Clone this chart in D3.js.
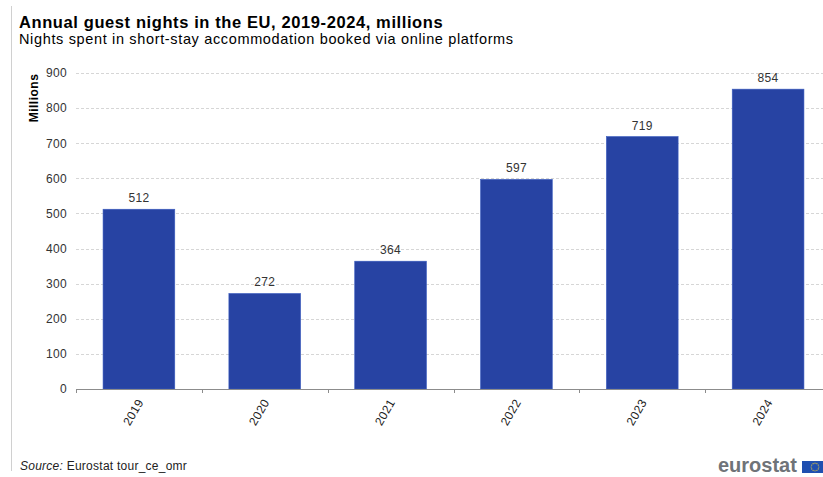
<!DOCTYPE html>
<html>
<head>
<meta charset="utf-8">
<script src="https://cdn.jsdelivr.net/npm/d3@7/dist/d3.min.js"></script>
<style>
  body { margin: 0; background: #fff; }
  svg { display: block; font-family: "Liberation Sans", Arial, sans-serif; }
</style>
</head>
<body>
<svg id="chart" width="823" height="477"></svg>
<script>
// Annual guest nights booked via online platforms, EU, millions
const years = ["2019", "2020", "2021", "2022", "2023", "2024"];
const nights = [512, 272, 364, 597, 719, 854];
const yTickValues = [0, 100, 200, 300, 400, 500, 600, 700, 800, 900];

const titleText = "Annual guest nights in the EU, 2019-2024, millions";
const subtitleText = "Nights spent in short-stay accommodation booked via online platforms";
const yAxisTitle = "Millions";
const sourceLabel = "Source:";
const sourceText = " Eurostat tour_ce_omr";

const svg = d3.select("#chart");

const plotLeft = 76, plotRight = 831, plotTop = 73, plotBottom = 389;

const x = d3.scaleBand()
  .domain(years)
  .range([plotLeft, plotRight])
  .paddingInner(0.43)
  .paddingOuter(0.215);

const y = d3.scaleLinear()
  .domain([0, 900])
  .range([plotBottom, plotTop]);

// thin frame line on the left edge
svg.append("line")
  .attr("x1", 11.5).attr("x2", 11.5)
  .attr("y1", 6).attr("y2", 471)
  .attr("stroke", "#d0d0d0").attr("stroke-width", 1);

// titles
svg.append("text")
  .attr("x", 19).attr("y", 28)
  .attr("font-size", 16.5).attr("font-weight", "bold").attr("fill", "#000")
  .attr("letter-spacing", 0.6)
  .text(titleText);
svg.append("text")
  .attr("x", 19).attr("y", 44)
  .attr("font-size", 14.5).attr("fill", "#000")
  .attr("letter-spacing", 0.65)
  .text(subtitleText);

// horizontal gridlines
svg.append("g")
  .selectAll("line")
  .data(yTickValues.filter(d => d > 0))
  .join("line")
  .attr("x1", plotLeft).attr("x2", 823)
  .attr("y1", d => Math.round(y(d)) + 0.5)
  .attr("y2", d => Math.round(y(d)) + 0.5)
  .attr("stroke", "#d6d6d6")
  .attr("stroke-dasharray", "3,2");

// y axis labels
const yAxis = d3.axisLeft(y)
  .tickValues(yTickValues)
  .tickSize(0)
  .tickPadding(9);
const yg = svg.append("g")
  .attr("transform", `translate(${plotLeft},0)`)
  .call(yAxis);
yg.select(".domain").remove();
yg.selectAll("text")
  .attr("font-size", 12)
  .attr("letter-spacing", 0.3)
  .attr("font-family", "'Liberation Sans', Arial, sans-serif")
  .attr("fill", "#333");

svg.append("text")
  .attr("transform", `translate(38,98) rotate(-90)`)
  .attr("text-anchor", "middle")
  .attr("font-size", 12).attr("font-weight", "bold").attr("fill", "#000")
  .attr("letter-spacing", 0.5)
  .text(yAxisTitle);

// bars
svg.append("g")
  .selectAll("rect")
  .data(nights)
  .join("rect")
  .attr("x", (d, i) => x(years[i]))
  .attr("y", d => y(d))
  .attr("width", x.bandwidth())
  .attr("height", d => y(0) - y(d))
  .attr("fill", "#2743a3")
  .attr("stroke", "#3a5cc0")
  .attr("stroke-width", 0.6);

// value labels
svg.append("g")
  .selectAll("text")
  .data(nights)
  .join("text")
  .attr("x", (d, i) => x(years[i]) + x.bandwidth() / 2)
  .attr("y", d => y(d) - 7)
  .attr("text-anchor", "middle")
  .attr("font-size", 12).attr("fill", "#333")
  .attr("letter-spacing", 0.3)
  .text(d => d);

// x axis baseline and category-boundary ticks
const axisG = svg.append("g");
axisG.append("line")
  .attr("x1", plotLeft).attr("x2", plotRight)
  .attr("y1", plotBottom + 0.5).attr("y2", plotBottom + 0.5)
  .attr("stroke", "#8c8c8c");
axisG.selectAll("line.tick")
  .data(d3.range(years.length + 1))
  .join("line")
  .attr("class", "tick")
  .attr("x1", i => Math.round(plotLeft + i * x.step()) + 0.5)
  .attr("x2", i => Math.round(plotLeft + i * x.step()) + 0.5)
  .attr("y1", plotBottom).attr("y2", plotBottom + 4)
  .attr("stroke", "#8c8c8c");

axisG.selectAll("text")
  .data(years)
  .join("text")
  .attr("transform", d => `translate(${x(d) + x.bandwidth() / 2 + 5},${plotBottom + 13}) rotate(-60)`)
  .attr("text-anchor", "end")
  .attr("font-size", 12).attr("fill", "#222")
  .attr("letter-spacing", 0.4)
  .text(d => d);

// source line
const src = svg.append("text")
  .attr("x", 20).attr("y", 470)
  .attr("font-size", 12).attr("fill", "#222")
  .attr("letter-spacing", 0.25);
src.append("tspan").attr("font-style", "italic").text(sourceLabel);
src.append("tspan").text(sourceText);

// eurostat logo
svg.append("text")
  .attr("x", 718).attr("y", 472)
  .attr("font-size", 20).attr("font-weight", "bold")
  .attr("fill", "#6f7378")
  .text("eurostat");
svg.append("rect")
  .attr("x", 802).attr("y", 461)
  .attr("width", 24).attr("height", 12)
  .attr("fill", "#1f4fb0");
const stars = d3.range(12).map(k => {
  const a = k / 12 * 2 * Math.PI;
  return [815 + 3.8 * Math.cos(a), 467 + 3.8 * Math.sin(a)];
});
svg.append("g")
  .selectAll("circle")
  .data(stars)
  .join("circle")
  .attr("cx", d => d[0]).attr("cy", d => d[1])
  .attr("r", 0.6)
  .attr("fill", "#e8c93a");
</script>
</body>
</html>
